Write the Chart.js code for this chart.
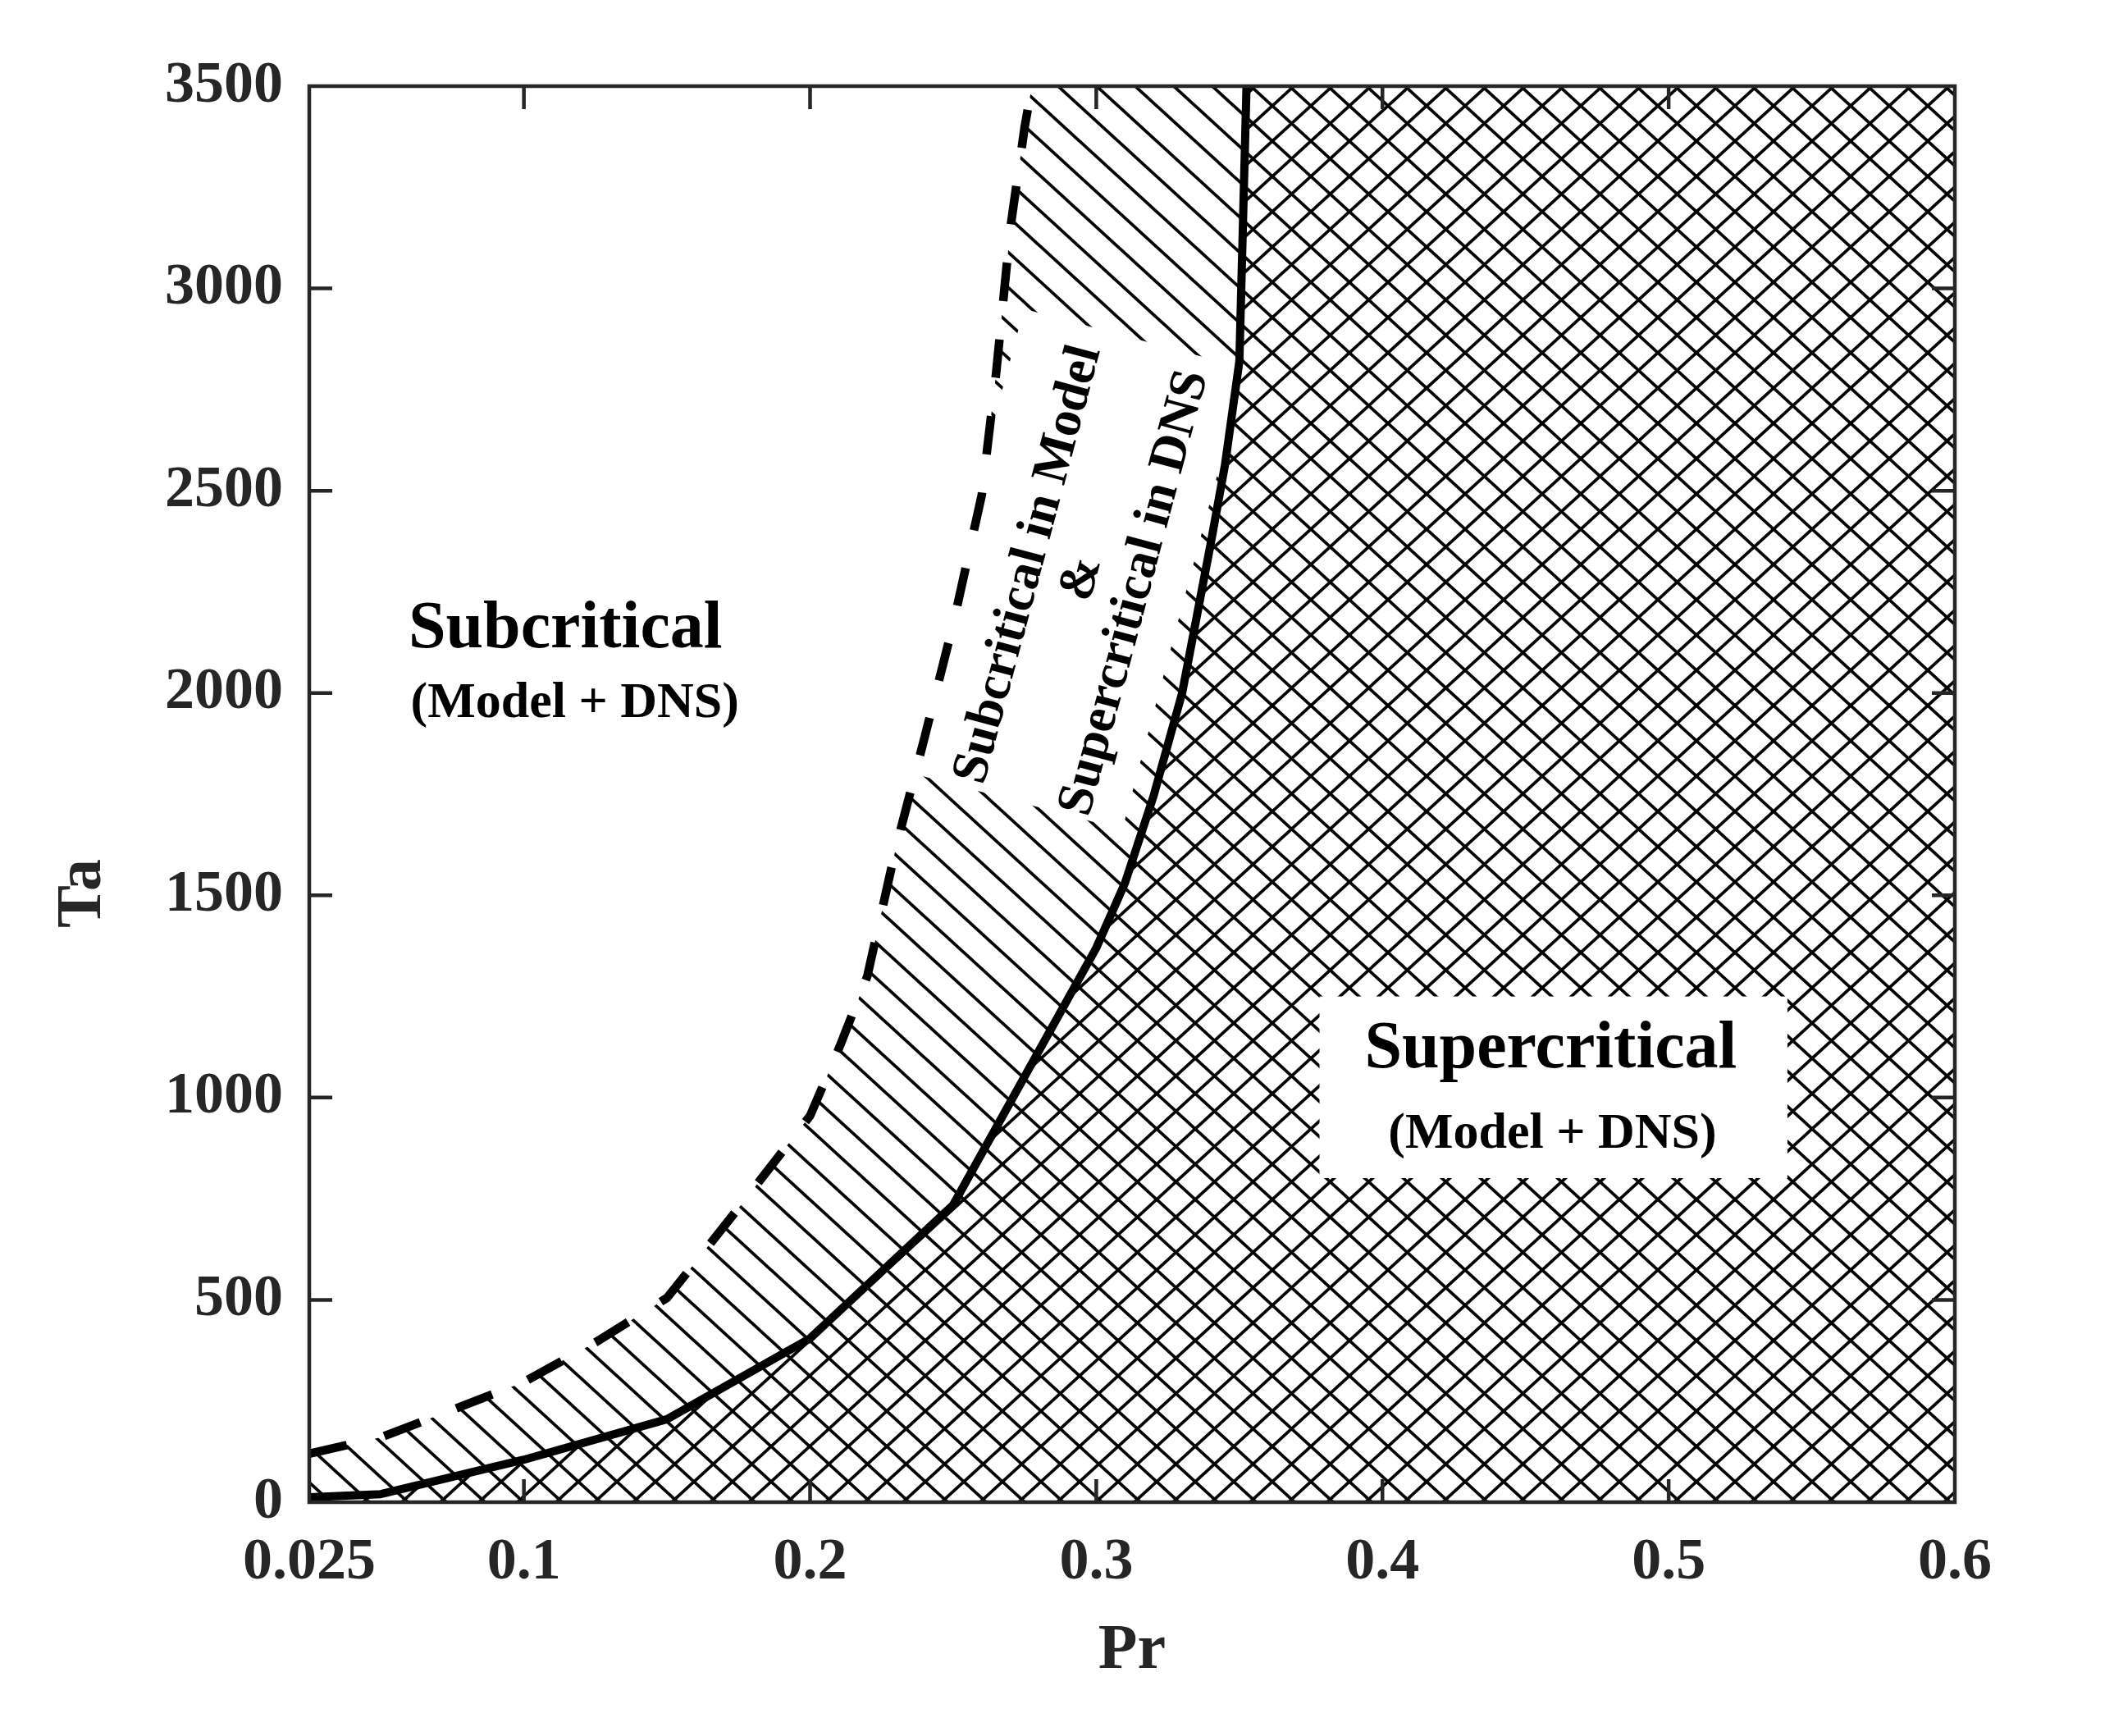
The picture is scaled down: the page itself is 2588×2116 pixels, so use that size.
<!DOCTYPE html>
<html>
<head>
<meta charset="utf-8">
<script src="https://cdn.jsdelivr.net/npm/chart.js@4.4.1/dist/chart.umd.min.js"></script>
<style>
  html, body { margin: 0; padding: 0; background: #fff; }
  #wrap { width: 2588px; height: 2116px; }
</style>
</head>
<body>
<div id="wrap"><canvas id="stabilityChart"></canvas></div>
<script>
// Supercritical boundary (DNS), solid line
const prSolid = [0.025, 0.05, 0.1, 0.15, 0.2, 0.25, 0.3, 0.31, 0.32, 0.33, 0.34, 0.345, 0.35, 0.3525];
const taSolid = [12, 20, 105, 205, 405, 735, 1370, 1530, 1745, 2000, 2370, 2565, 2820, 3500];

// Subcritical boundary (model), dashed line
const prDashed = [0.025, 0.05, 0.075, 0.1, 0.125, 0.15, 0.175, 0.2, 0.21, 0.22, 0.23, 0.24, 0.25, 0.26, 0.265, 0.27, 0.275, 0.2775];
const taDashed = [120, 160, 228, 297, 395, 505, 727, 955, 1120, 1300, 1618, 1890, 2170, 2490, 2790, 3150, 3400, 3500];

// Axis ticks
const xTickValues = [0.025, 0.1, 0.2, 0.3, 0.4, 0.5, 0.6];
const xTickLabels = ['0.025', '0.1', '0.2', '0.3', '0.4', '0.5', '0.6'];
const yTickValues = [0, 500, 1000, 1500, 2000, 2500, 3000, 3500];
const yTickLabels = ['0', '500', '1000', '1500', '2000', '2500', '3000', '3500'];

const AXIS_COLOR = '#262626';
const SERIF = '"Liberation Serif", "Times New Roman", serif';

function toPoints(xs, ys) {
    return xs.map((x, i) => ({ x: x, y: ys[i] }));
}

// close a region along the top edge of the plot so 'start' fill covers everything right of the curve
function regionPoints(xs, ys) {
    const pts = toPoints(xs, ys);
    pts.push({ x: xTickValues[xTickValues.length - 1], y: yTickValues[yTickValues.length - 1] });
    return pts;
}

function makeHatch(cross) {
    const w = 47, h = 43;
    const c = document.createElement('canvas');
    c.width = w;
    c.height = h;
    const g = c.getContext('2d');
    if (cross) {
        g.fillStyle = '#fff';
        g.fillRect(0, 0, w, h);
    }
    g.strokeStyle = '#000';
    g.lineWidth = 3.8;
    for (let k = -2; k <= 2; k++) {
        g.beginPath();
        g.moveTo(k * w - w, -h);
        g.lineTo(k * w + 2 * w, 2 * h);
        g.stroke();
        if (cross) {
            g.beginPath();
            g.moveTo(k * w + 2 * w, -h);
            g.lineTo(k * w - w, 2 * h);
            g.stroke();
        }
    }
    return g.createPattern(c, 'repeat');
}

const regionPlugin = {
    id: 'regions',
    afterDatasetDraw(chart, args) {
        const ctx = chart.ctx;
        const area = chart.chartArea;
        const xs = chart.scales.x, ys = chart.scales.y;
        ctx.save();
        ctx.beginPath();
        ctx.rect(area.left, area.top, area.right - area.left, area.bottom - area.top);
        ctx.clip();
        ctx.fillStyle = '#fff';
        if (args.index === 0) {
            // white patch behind the rotated label in the hatched band
            ctx.translate(xs.getPixelForValue(0.2919), ys.getPixelForValue(2306));
            ctx.rotate(-75 * Math.PI / 180);
            ctx.fillRect(-291, -140, 582, 280);
        } else if (args.index === 1) {
            const l = xs.getPixelForValue(0.378), r = xs.getPixelForValue(0.5415);
            const t = ys.getPixelForValue(1250), b = ys.getPixelForValue(801);
            ctx.fillRect(l, t, r - l, b - t);
        }
        ctx.restore();
    },
    afterDraw(chart) {
        const ctx = chart.ctx;
        const area = chart.chartArea;
        const xs = chart.scales.x, ys = chart.scales.y;

        // region labels
        ctx.save();
        ctx.fillStyle = '#000';
        ctx.textAlign = 'center';
        ctx.textBaseline = 'alphabetic';
        ctx.font = 'bold 82px ' + SERIF;
        ctx.fillText('Subcritical', xs.getPixelForValue(0.1145), ys.getPixelForValue(2112));
        ctx.fillText('Supercritical', xs.getPixelForValue(0.4588), ys.getPixelForValue(1075));
        ctx.font = 'bold 62px ' + SERIF;
        ctx.fillText('(Model + DNS)', xs.getPixelForValue(0.1178), ys.getPixelForValue(1940));
        ctx.fillText('(Model + DNS)', xs.getPixelForValue(0.4594), ys.getPixelForValue(876));

        // rotated label in the band between the curves
        ctx.translate(xs.getPixelForValue(0.295), ys.getPixelForValue(2282));
        ctx.rotate(-75 * Math.PI / 180);
        ctx.textBaseline = 'middle';
        ctx.font = 'bold 63px ' + SERIF;
        ctx.fillText('Subcritical in Model', 0, -67);
        ctx.fillText('&', 0, 0);
        ctx.fillText('Supercritical in DNS', 0, 67);
        ctx.restore();

        // frame and inward ticks
        ctx.save();
        ctx.strokeStyle = AXIS_COLOR;
        ctx.lineWidth = 4.5;
        ctx.strokeRect(area.left, area.top, area.right - area.left, area.bottom - area.top);
        const tick = 28;
        ctx.beginPath();
        xTickValues.slice(1, -1).forEach(v => {
            const px = xs.getPixelForValue(v);
            ctx.moveTo(px, area.bottom);
            ctx.lineTo(px, area.bottom - tick);
            ctx.moveTo(px, area.top);
            ctx.lineTo(px, area.top + tick);
        });
        yTickValues.slice(1, -1).forEach(v => {
            const py = ys.getPixelForValue(v);
            ctx.moveTo(area.left, py);
            ctx.lineTo(area.left + tick, py);
            ctx.moveTo(area.right, py);
            ctx.lineTo(area.right - tick, py);
        });
        ctx.stroke();

        // axis titles
        ctx.fillStyle = AXIS_COLOR;
        ctx.font = 'bold 78px ' + SERIF;
        ctx.textAlign = 'center';
        ctx.textBaseline = 'middle';
        ctx.fillText('Pr', (area.left + area.right) / 2, area.bottom + 182);
        ctx.translate(area.left - 275, (area.top + area.bottom) / 2 + 121);
        ctx.rotate(-Math.PI / 2);
        ctx.fillText('Ta', 0, 0);
        ctx.restore();
    }
};

const tickFont = { family: SERIF, size: 72, weight: 'bold' };

new Chart(document.getElementById('stabilityChart').getContext('2d'), {
    type: 'line',
    data: {
        datasets: [
            {
                label: 'Subcritical in Model region',
                data: regionPoints(prDashed, taDashed),
                fill: 'start',
                backgroundColor: makeHatch(false),
                borderColor: 'rgba(0,0,0,0)',
                borderWidth: 0,
                pointRadius: 0,
                order: 4
            },
            {
                label: 'Supercritical region',
                data: regionPoints(prSolid, taSolid),
                fill: 'start',
                backgroundColor: makeHatch(true),
                borderColor: 'rgba(0,0,0,0)',
                borderWidth: 0,
                pointRadius: 0,
                order: 3
            },
            {
                label: 'Model boundary',
                data: toPoints(prDashed, taDashed),
                fill: false,
                borderColor: '#000',
                borderWidth: 10.5,
                borderDash: [47, 47],
                pointRadius: 0,
                order: 2
            },
            {
                label: 'DNS boundary',
                data: toPoints(prSolid, taSolid),
                fill: false,
                borderColor: '#000',
                borderWidth: 10,
                pointRadius: 0,
                order: 1
            }
        ]
    },
    options: {
        responsive: true,
        maintainAspectRatio: false,
        animation: false,
        devicePixelRatio: 1,
        layout: { padding: { left: 0, top: 105, right: 205, bottom: 0 } },
        elements: { line: { tension: 0, borderJoinStyle: 'round' } },
        plugins: {
            legend: { display: false },
            tooltip: { enabled: false }
        },
        scales: {
            x: {
                type: 'linear',
                min: xTickValues[0],
                max: xTickValues[xTickValues.length - 1],
                grid: { display: false },
                border: { display: false },
                afterBuildTicks: scale => { scale.ticks = xTickValues.map(v => ({ value: v })); },
                afterFit: scale => { scale.height = 285; },
                ticks: {
                    callback: (value, index) => xTickLabels[index],
                    font: tickFont,
                    color: AXIS_COLOR,
                    padding: 23,
                    maxRotation: 0,
                    autoSkip: false
                }
            },
            y: {
                type: 'linear',
                min: yTickValues[0],
                max: yTickValues[yTickValues.length - 1],
                grid: { display: false },
                border: { display: false },
                afterBuildTicks: scale => { scale.ticks = yTickValues.map(v => ({ value: v })); },
                afterFit: scale => { scale.width = 377; },
                ticks: {
                    callback: (value, index) => yTickLabels[index],
                    font: tickFont,
                    color: AXIS_COLOR,
                    padding: 24,
                    autoSkip: false
                }
            }
        }
    },
    plugins: [regionPlugin]
});
</script>
</body>
</html>
